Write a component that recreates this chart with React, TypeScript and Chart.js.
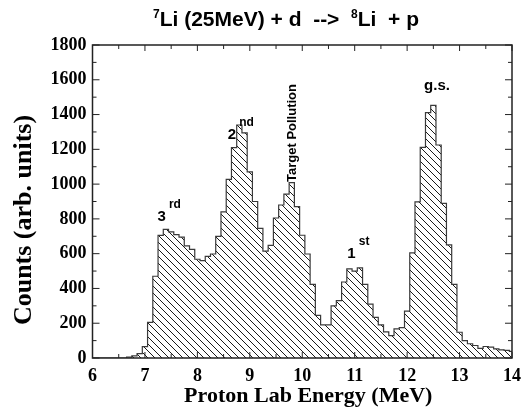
import React, { useEffect, useRef } from "react";
import { Chart, registerables } from "chart.js";

Chart.register(...registerables);

// ---- data -------------------------------------------------------------
const binLeftEdges = [
  6.05, 6.15, 6.25, 6.35, 6.45, 6.55, 6.65, 6.75, 6.85, 6.95,
  7.05, 7.15, 7.25, 7.35, 7.45, 7.55, 7.65, 7.75, 7.85, 7.95,
  8.05, 8.15, 8.25, 8.35, 8.45, 8.55, 8.65, 8.75, 8.85, 8.95,
  9.05, 9.15, 9.25, 9.35, 9.45, 9.55, 9.65, 9.75, 9.85, 9.95,
  10.05, 10.15, 10.25, 10.35, 10.45, 10.55, 10.65, 10.75, 10.85, 10.95,
  11.05, 11.15, 11.25, 11.35, 11.45, 11.55, 11.65, 11.75, 11.85, 11.95,
  12.05, 12.15, 12.25, 12.35, 12.45, 12.55, 12.65, 12.75, 12.85, 12.95,
  13.05, 13.15, 13.25, 13.35, 13.45, 13.55, 13.65, 13.75, 13.85, 13.95,
];
const histogramStart = 6.0;
const histogramEnd = 14.0;

const counts = [
  0, 0, 0, 0, 0, 0, 5, 12, 25, 65,
  205, 470, 705, 740, 725, 710, 695, 645, 625, 568,
  560, 585, 598, 700, 840, 1027, 1210, 1340, 1295, 1070,
  900, 745, 615, 648, 805, 880, 942, 1008, 870, 706,
  598, 423, 245, 190, 190, 300, 330, 437, 512, 500,
  518, 423, 310, 234, 190, 150, 129, 167, 175, 270,
  604, 898, 1211, 1411, 1453, 1225, 889, 651, 423, 148,
  100, 82, 72, 55, 66, 63, 53, 47, 44, 38,
];

const xMajorTicks = [6, 7, 8, 9, 10, 11, 12, 13, 14];
const yMajorTicks = [0, 200, 400, 600, 800, 1000, 1200, 1400, 1600, 1800];

const titleParts = [
  { text: "7", sup: true },
  { text: "Li (25MeV) + d  -->  ", sup: false },
  { text: "8", sup: true },
  { text: "Li  + p", sup: false },
];
const xAxisTitle = "Proton Lab Energy (MeV)";
const yAxisTitle = "Counts (arb. units)";

const peakLabels = [
  { text: "3", sup: "rd", x: 7.32, y: 788 },
  { text: "2", sup: "nd", x: 8.66, y: 1259 },
  { text: "1", sup: "st", x: 10.94, y: 575 },
  { text: "g.s.", sup: "", x: 12.57, y: 1541 },
];
const pollutionLabel = { text: "Target Pollution", x: 9.89, y: 1294 };

// ---- helpers -----------------------------------------------------------
function makeHatch(): CanvasPattern | string {
  const size = 7;
  const c = document.createElement("canvas");
  c.width = size;
  c.height = size;
  const g = c.getContext("2d");
  if (!g) return "#ccc";
  g.fillStyle = "#ffffff";
  g.fillRect(0, 0, size, size);
  g.strokeStyle = "#1a1a1a";
  g.lineWidth = 1;
  g.beginPath();
  g.moveTo(-1, -1);
  g.lineTo(size + 1, size + 1);
  g.moveTo(-1, size - 1);
  g.lineTo(1, size + 1);
  g.moveTo(size - 1, -1);
  g.lineTo(size + 1, 1);
  g.stroke();
  const p = g.createPattern(c, "repeat");
  return p || "#ccc";
}

const SANS = '"Liberation Sans", Arial, sans-serif';
const SERIF = '"Liberation Serif", "Times New Roman", serif';

const decorPlugin = {
  id: "decor",
  afterDraw(chart: any) {
    const { ctx, chartArea } = chart;
    const xs = chart.scales.x;
    const ys = chart.scales.y;
    const { left, right, top, bottom } = chartArea;
    ctx.save();

    // frame
    ctx.strokeStyle = "#222";
    ctx.lineWidth = 1.5;
    ctx.strokeRect(left, top, right - left, bottom - top);

    // inward ticks
    ctx.lineWidth = 1;
    ctx.strokeStyle = "#222";
    ctx.beginPath();
    xs.ticks.forEach((t: any) => {
      const px = xs.getPixelForValue(t.value);
      const major = xMajorTicks.some((m) => Math.abs(m - t.value) < 1e-6);
      const len = major ? 6 : 4;
      ctx.moveTo(px, bottom);
      ctx.lineTo(px, bottom - len);
      ctx.moveTo(px, top);
      ctx.lineTo(px, top + len);
    });
    ys.ticks.forEach((t: any) => {
      const py = ys.getPixelForValue(t.value);
      const major = yMajorTicks.some((m) => Math.abs(m - t.value) < 1e-6);
      const len = major ? 7 : 4;
      ctx.moveTo(left, py);
      ctx.lineTo(left + len, py);
      ctx.moveTo(right, py);
      ctx.lineTo(right - len, py);
    });
    ctx.stroke();

    ctx.fillStyle = "#000";

    // peak labels
    peakLabels.forEach((l) => {
      const px = xs.getPixelForValue(l.x);
      const py = ys.getPixelForValue(l.y);
      ctx.font = `bold 15px ${SANS}`;
      ctx.textAlign = "center";
      ctx.textBaseline = "alphabetic";
      ctx.fillText(l.text, px, py);
      if (l.sup) {
        const w = ctx.measureText(l.text).width;
        ctx.font = `bold 12px ${SANS}`;
        ctx.textAlign = "left";
        ctx.fillText(l.sup, px + w / 2 + 3, py - 13);
      }
    });

    // rotated pollution label
    {
      const px = xs.getPixelForValue(pollutionLabel.x);
      const py = ys.getPixelForValue(pollutionLabel.y);
      ctx.save();
      ctx.translate(px, py);
      ctx.rotate(-Math.PI / 2);
      ctx.font = `bold 13px ${SANS}`;
      ctx.textAlign = "center";
      ctx.textBaseline = "alphabetic";
      ctx.fillText(pollutionLabel.text, 0, 0);
      ctx.restore();
    }

    // main title with superscripts
    {
      const baseFont = `bold 21px ${SANS}`;
      const supFont = `bold 12px ${SANS}`;
      let total = 0;
      const widths = titleParts.map((p) => {
        ctx.font = p.sup ? supFont : baseFont;
        const w = ctx.measureText(p.text).width;
        total += w;
        return w;
      });
      let x = 286 - total / 2;
      const baseY = 25.5;
      ctx.textAlign = "left";
      ctx.textBaseline = "alphabetic";
      titleParts.forEach((p, i) => {
        ctx.font = p.sup ? supFont : baseFont;
        ctx.fillText(p.text, x, p.sup ? baseY - 8 : baseY);
        x += widths[i];
      });
    }

    // axis titles
    ctx.font = `bold 22px ${SERIF}`;
    ctx.textAlign = "center";
    ctx.textBaseline = "alphabetic";
    ctx.fillText(xAxisTitle, (left + right) / 2 + 6, 402);

    ctx.save();
    ctx.translate(31, 220);
    ctx.rotate(-Math.PI / 2);
    ctx.font = `bold 26px ${SERIF}`;
    ctx.fillText(yAxisTitle, 0, 0);
    ctx.restore();

    ctx.restore();
  },
};

export default function App() {
  const canvasRef = useRef<HTMLCanvasElement | null>(null);

  useEffect(() => {
    const canvas = canvasRef.current;
    if (!canvas) return;
    const hatch = makeHatch();

    const points = [{ x: histogramStart, y: 0 }].concat(
      binLeftEdges.map((e, i) => ({ x: e, y: counts[i] }))
    );
    points.push({ x: histogramEnd, y: counts[counts.length - 1] });

    const chart = new Chart(canvas, {
      type: "line",
      data: {
        datasets: [
          {
            data: points,
            stepped: "before",
            borderColor: "#3a3a3a",
            borderWidth: 1.2,
            backgroundColor: hatch as any,
            fill: "origin",
            pointRadius: 0,
            tension: 0,
          },
        ],
      },
      plugins: [decorPlugin],
      options: {
        animation: false,
        responsive: false,
        devicePixelRatio: 1,
        events: [],
        layout: { padding: { left: 0, right: 15.5, top: 45, bottom: 0 } },
        plugins: {
          legend: { display: false },
          tooltip: { enabled: false },
          title: { display: false },
        },
        scales: {
          x: {
            type: "linear",
            min: 6,
            max: 14,
            grid: { display: false, drawTicks: false },
            border: { display: false },
            afterFit: (s: any) => {
              s.height = 56;
            },
            ticks: {
              stepSize: 0.5,
              autoSkip: false,
              maxRotation: 0,
              padding: 8,
              color: "#000",
              font: { family: SERIF, size: 18, weight: "bold" },
              callback: (v: any) =>
                xMajorTicks.some((m) => Math.abs(m - Number(v)) < 1e-6) ? String(Math.round(Number(v))) : "",
            },
          },
          y: {
            type: "linear",
            min: 0,
            max: 1800,
            grid: { display: false, drawTicks: false },
            border: { display: false },
            afterFit: (s: any) => {
              s.width = 92.5;
            },
            ticks: {
              stepSize: 100,
              autoSkip: false,
              padding: 6,
              color: "#000",
              font: { family: SERIF, size: 18, weight: "bold" },
              callback: (v: any) =>
                yMajorTicks.some((m) => Math.abs(m - Number(v)) < 1e-6) ? String(Math.round(Number(v))) : "",
            },
          },
        },
      } as any,
    });

    return () => chart.destroy();
  }, []);

  return (
    <div style={{ position: "fixed", left: 0, top: 0, width: 529, height: 414, background: "#fff" }}>
      <canvas ref={canvasRef} width={529} height={414} style={{ display: "block", width: 529, height: 414 }} />
    </div>
  );
}
